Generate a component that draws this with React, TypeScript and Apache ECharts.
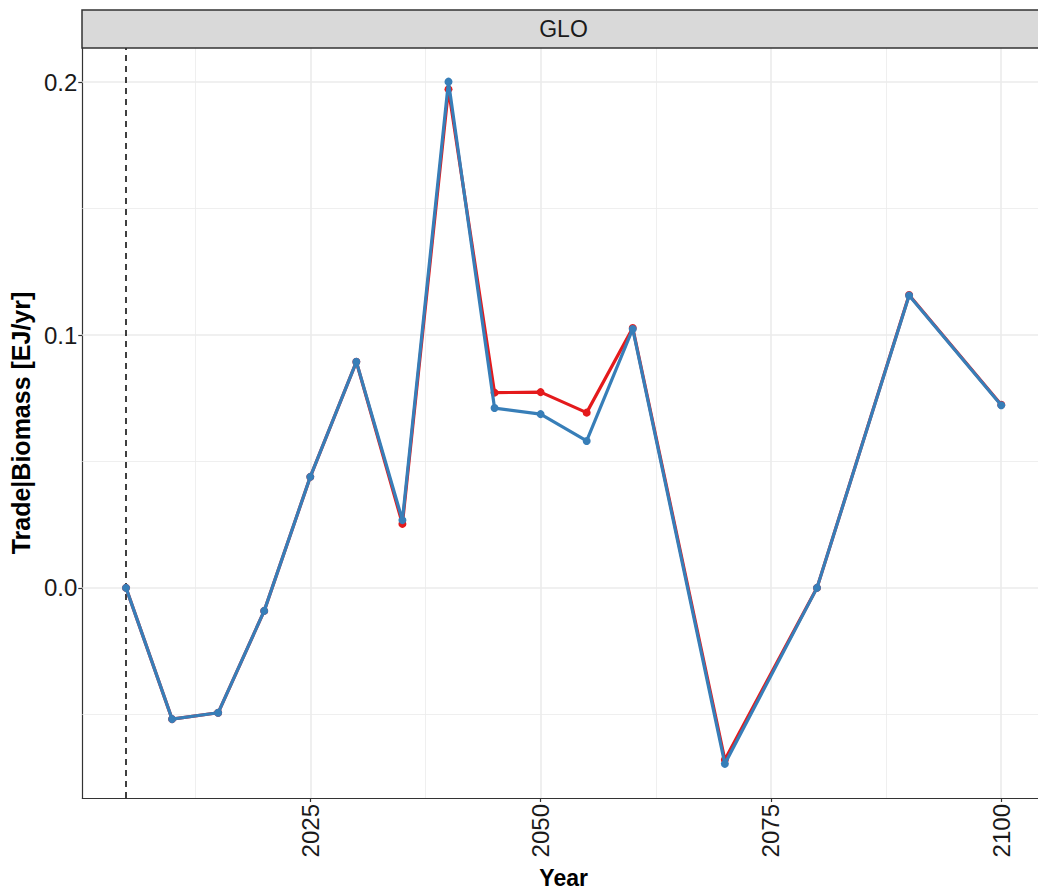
import React, { useEffect, useRef } from "react";
import * as echarts from "echarts";

const years = [2005, 2010, 2015, 2020, 2025, 2030, 2035, 2040, 2045, 2050, 2055, 2060, 2070, 2080, 2090, 2100];
const redValues = [0, -0.0519, -0.0494, -0.0091, 0.0439, 0.0894, 0.0253, 0.1972, 0.0772, 0.0774, 0.0693, 0.1028, -0.068, 0, 0.1158, 0.0724];
const blueValues = [0, -0.0519, -0.0494, -0.0091, 0.0439, 0.0894, 0.0268, 0.2002, 0.0711, 0.0687, 0.0581, 0.1024, -0.0696, 0, 0.1156, 0.0722];
const xTicks = [2025, 2050, 2075, 2100];
const xMinor = [2012.5, 2037.5, 2062.5, 2087.5];
const yTicks = [0, 0.1, 0.2];
const yMinor = [-0.05, 0.05, 0.15];
const refYear = 2005;
const facetLabel = "GLO";

const FONT = "'Liberation Sans', Arial, Helvetica, sans-serif";

export default function App() {
  const ref = useRef<HTMLDivElement>(null);
  useEffect(() => {
    if (!ref.current) return;
    const chart = echarts.init(ref.current, null, { renderer: "svg" });
    const gridLine = (w: number) => ({ color: "#ebebeb", width: w, type: "solid" as const });
    chart.setOption({
      animation: false,
      textStyle: { fontFamily: FONT },
      grid: { left: 82, top: 48, right: 1, bottom: 96, containLabel: false },
      xAxis: {
        type: "value",
        min: 2000.25,
        max: 2104.75,
        splitLine: { show: false },
        axisLine: { show: true, onZero: false, lineStyle: { color: "#333333", width: 1.2 } },
        axisTick: { show: true, customValues: xTicks, length: 4, lineStyle: { color: "#333333", width: 1.2 } },
        axisLabel: {
          customValues: xTicks,
          formatter: (v: number) => String(v),
          rotate: 90,
          fontSize: 24,
          color: "#1a1a1a",
          margin: 6,
          fontFamily: FONT,
        },
        name: "Year",
        nameLocation: "middle",
        nameGap: 68,
        nameTextStyle: { fontSize: 23, fontWeight: "bold", color: "#000000", fontFamily: FONT },
      },
      yAxis: {
        type: "value",
        min: -0.0831,
        max: 0.2135,
        splitLine: { show: false },
        axisLine: { show: true, onZero: false, lineStyle: { color: "#333333", width: 1.2 } },
        axisTick: { show: true, customValues: yTicks, length: 4, lineStyle: { color: "#333333", width: 1.2 } },
        axisLabel: {
          customValues: yTicks,
          formatter: (v: number) => v.toFixed(1),
          fontSize: 24,
          color: "#1a1a1a",
          margin: 5,
          fontFamily: FONT,
        },
        name: "Trade|Biomass [EJ/yr]",
        nameLocation: "middle",
        nameGap: 45,
        nameTextStyle: { fontSize: 25, fontWeight: "bold", color: "#000000", fontFamily: FONT },
      },
      graphic: [
        {
          type: "rect",
          shape: { x: 82, y: 10, width: 964, height: 38 },
          style: { fill: "#d9d9d9", stroke: "#333333", lineWidth: 1.5 },
          z: 10,
        },
        {
          type: "text",
          x: 563.5,
          y: 29,
          style: { text: facetLabel, fontSize: 23, fill: "#1a1a1a", align: "center", verticalAlign: "middle", fontFamily: FONT },
          z: 11,
        },
      ],
      series: [
        {
          type: "line",
          data: [],
          z: 1,
          silent: true,
          markLine: {
            z: 1,
            silent: true,
            symbol: "none",
            label: { show: false },
            data: [
              ...xMinor.map((v) => ({ xAxis: v, lineStyle: gridLine(0.8) })),
              ...yMinor.map((v) => ({ yAxis: v, lineStyle: gridLine(0.8) })),
              ...xTicks.map((v) => ({ xAxis: v, lineStyle: gridLine(1.6) })),
              ...yTicks.map((v) => ({ yAxis: v, lineStyle: gridLine(1.6) })),
            ],
          },
        },
        {
          type: "line",
          data: [],
          z: 2,
          silent: true,
          markLine: {
            z: 2,
            silent: true,
            symbol: "none",
            label: { show: false },
            data: [{ xAxis: refYear, lineStyle: { color: "#000000", width: 1.5, type: [6, 5] } }],
          },
        },
        {
          name: "red",
          type: "line",
          z: 3,
          data: years.map((y, i) => [y, redValues[i]]),
          symbol: "circle",
          symbolSize: 8,
          lineStyle: { color: "#e41a1c", width: 3.2 },
          itemStyle: { color: "#e41a1c" },
        },
        {
          name: "blue",
          type: "line",
          z: 4,
          data: years.map((y, i) => [y, blueValues[i]]),
          symbol: "circle",
          symbolSize: 8,
          lineStyle: { color: "#377eb8", width: 3.2 },
          itemStyle: { color: "#377eb8" },
        },
      ],
    });
    return () => chart.dispose();
  }, []);
  return (
    <div style={{ position: "fixed", left: 0, top: 0, width: 1038, height: 894, overflow: "hidden", background: "#ffffff" }}>
      <div ref={ref} style={{ width: 1046, height: 894 }} />
    </div>
  );
}
